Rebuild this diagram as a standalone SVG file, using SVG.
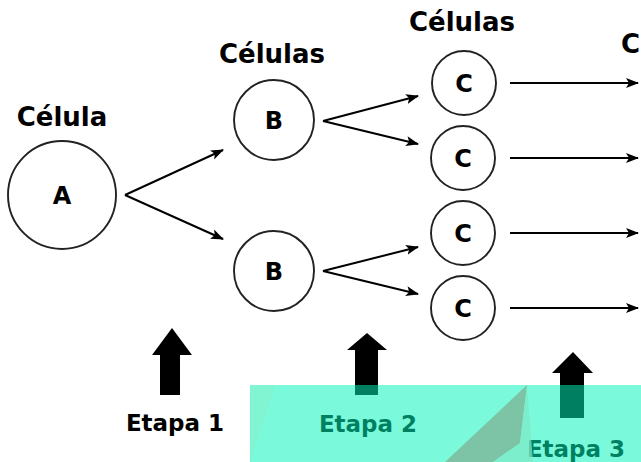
<svg xmlns="http://www.w3.org/2000/svg" width="641" height="462" viewBox="0 0 641 462">
<style>
.cell{fill:#fff;stroke:#222;stroke-width:1.9}
.lbl{font-family:"DejaVu Sans",Verdana,sans-serif;font-weight:bold;fill:#000;text-anchor:middle}
.title{font-size:26px}
.let{font-size:24px}
.step{font-size:23px}
.con{stroke:#000;stroke-width:2;fill:none;marker-end:url(#ah)}
.big{fill:#000}
</style>
<defs>
<marker id="ah" markerUnits="userSpaceOnUse" markerWidth="14" markerHeight="12" refX="12" refY="5" orient="auto" viewBox="0 0 14 10">
<path d="M0,0 L13,5 L0,10 L3,5 z" fill="#000"/>
</marker>
</defs>
<rect width="641" height="462" fill="#fff"/>
<g id="connectors">
<line class="con" x1="125" y1="195" x2="223" y2="150"/>
<line class="con" x1="125" y1="195" x2="223" y2="239"/>
<line class="con" x1="323" y1="121" x2="418" y2="96"/>
<line class="con" x1="323" y1="121" x2="418" y2="144"/>
<line class="con" x1="323" y1="271" x2="418" y2="247"/>
<line class="con" x1="323" y1="271" x2="418" y2="294"/>
<line class="con" x1="510" y1="83" x2="638" y2="83"/>
<line class="con" x1="510" y1="158" x2="638" y2="158"/>
<line class="con" x1="510" y1="233" x2="638" y2="233"/>
<line class="con" x1="510" y1="308" x2="638" y2="308"/>
</g>
<g id="cellA">
<text class="lbl title" x="62" y="126">Célula</text>
<circle class="cell" cx="62" cy="195" r="54"/>
<text class="lbl let" x="62" y="204">A</text>
</g>
<g id="titleB">
<text class="lbl title" x="272" y="63">Células</text>
</g>
<g id="cellB1">
<circle class="cell" cx="274" cy="120" r="40"/>
<text class="lbl let" x="274" y="129">B</text>
</g>
<g id="cellB2">
<circle class="cell" cx="274" cy="271" r="40"/>
<text class="lbl let" x="274" y="280">B</text>
</g>
<g id="titleC">
<text class="lbl title" x="462" y="31">Células</text>
</g>
<g id="cellC1">
<circle class="cell" cx="464" cy="83" r="32"/>
<text class="lbl let" x="464" y="92">C</text>
</g>
<g id="cellC2">
<circle class="cell" cx="463" cy="158" r="32"/>
<text class="lbl let" x="463" y="167">C</text>
</g>
<g id="cellC3">
<circle class="cell" cx="463" cy="233" r="32"/>
<text class="lbl let" x="463" y="242">C</text>
</g>
<g id="cellC4">
<circle class="cell" cx="463" cy="308" r="32"/>
<text class="lbl let" x="463" y="317">C</text>
</g>
<g id="titleRight">
<text class="lbl title" x="621" y="53" style="text-anchor:start">C</text>
</g>
<g id="etapa1">
<polygon class="big" points="172,328 192,355 180,355 180,395 160,395 160,355 152,355"/>
<text class="lbl step" x="175" y="431">Etapa 1</text>
</g>
<g id="etapa2">
<polygon class="big" points="367,333 387,350 378,350 378,395 355,395 355,350 347,350"/>
<text class="lbl step" x="368" y="432">Etapa 2</text>
</g>
<g id="etapa3">
<polygon class="big" points="573,352 593,373 584,373 584,418 560,418 560,373 552,373"/>
<text class="lbl step" x="576" y="457">Etapa 3</text>
</g>
<g id="overlay">
<rect x="250" y="385" width="391" height="77" fill="rgb(0,245,185)" fill-opacity="0.52"/>
<polygon points="250,462 250,385 275,385" fill="#86f0cc" fill-opacity="0.6"/>
<polygon points="527,385 445,462 493,462 520,443" fill="#7dc4a6"/>
<polygon points="527,385 533,462 493,462 520,443" fill="#7fe8c6" fill-opacity="0.7"/>
</g>
</svg>
